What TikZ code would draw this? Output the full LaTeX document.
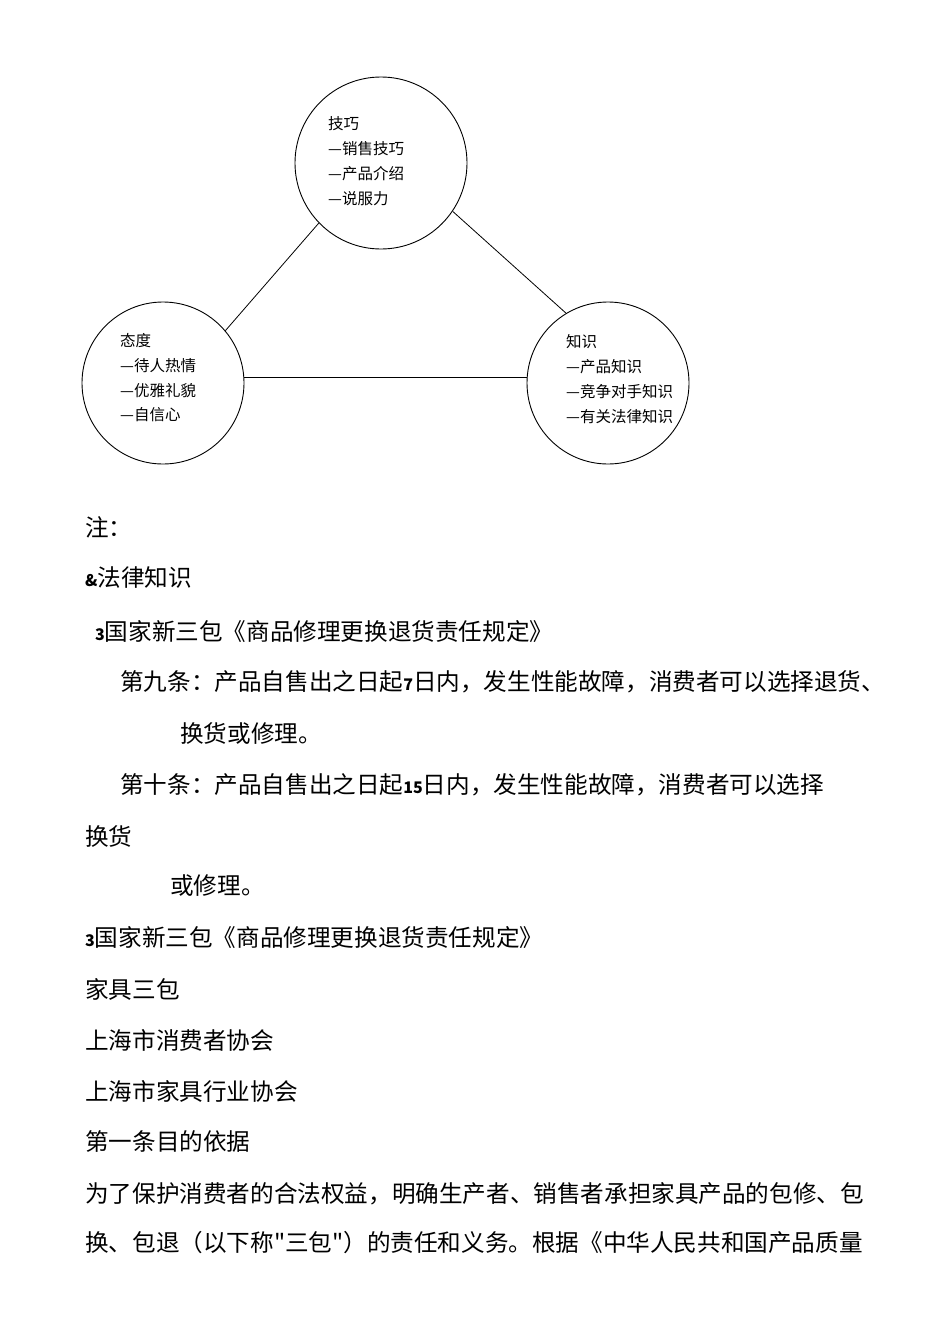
\documentclass[tikz,border=0pt]{standalone}
\usepackage{fontspec}
\newfontfamily\cjk{Noto Sans CJK SC}
\newcommand{\numb}[1]{{\fontsize{16}{20}\selectfont\textbf{#1}}}
\begin{document}
\begin{tikzpicture}[x=1pt,y=-1pt,
  circ/.style={draw,circle,line width=0.9pt,minimum size=#1},
  small/.style={anchor=west,font=\cjk\fontsize{15.5}{25}\selectfont,align=left,inner sep=0},
  body/.style={anchor=west,font=\cjk\fontsize{23.6}{27}\selectfont,inner sep=0}]
\useasboundingbox[fill=white] (0,0) rectangle (950,1344);
\node[circ=172pt] (top) at (381,163) {};
\node[circ=162pt] (left) at (163,383) {};
\node[circ=162pt] (right) at (608,383) {};
\draw[line width=0.8pt] (top.224) -- (left.40);
\draw[line width=0.8pt] (top.-34) -- (right.121);
\draw[line width=0.8pt] (left.4) -- (right.176);
\node[small] (t1) at (328,124) {技巧};
\node[small] (t2) at (328,149) {—销售技巧};
\node[small] (t3) at (328,174) {—产品介绍};
\node[small] (t4) at (328,199) {—说服力};
\node[small] (l1) at (120,341) {态度};
\node[small] (l2) at (120,366) {—待人热情};
\node[small] (l3) at (120,391) {—优雅礼貌};
\node[small] (l4) at (120,415) {—自信心};
\node[small] (r1) at (566,342) {知识};
\node[small] (r2) at (566,367) {—产品知识};
\node[small] (r3) at (566,392) {—竞争对手知识};
\node[small] (r4) at (566,417) {—有关法律知识};
\node[body] (b1) at (85,527) {注：};
\node[body] (b2) at (85,578) {\numb{\&}法律知识};
\node[body] (b3) at (95,632) {\numb{3}国家新三包《商品修理更换退货责任规定》};
\node[body] (b4) at (120,682) {第九条：产品自售出之日起\numb{7}日内，发生性能故障，消费者可以选择退货、};
\node[body] (b5) at (180,733) {换货或修理。};
\node[body] (b6) at (120,785) {第十条：产品自售出之日起\numb{15}日内，发生性能故障，消费者可以选择};
\node[body] (b7) at (85,836) {换货};
\node[body] (b8) at (170,886) {或修理。};
\node[body] (b9) at (85,938) {\numb{3}国家新三包《商品修理更换退货责任规定》};
\node[body] (b10) at (85,989) {家具三包};
\node[body] (b11) at (85,1040) {上海市消费者协会};
\node[body] (b12) at (85,1091) {上海市家具行业协会};
\node[body] (b13) at (85,1141) {第一条目的依据};
\node[body] (b14) at (85,1194) {为了保护消费者的合法权益，明确生产者、销售者承担家具产品的包修、包};
\node[body] (b15) at (85,1243) {换、包退（以下称"三包"）的责任和义务。根据《中华人民共和国产品质量};
\end{tikzpicture}
\end{document}
